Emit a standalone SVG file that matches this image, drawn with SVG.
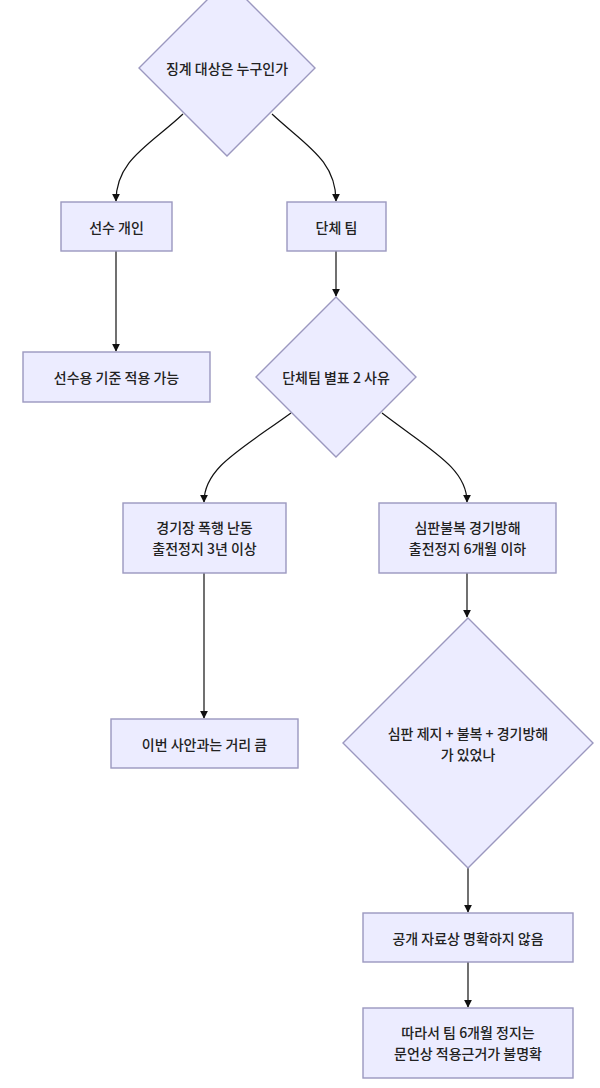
<svg xmlns="http://www.w3.org/2000/svg" width="600" height="1088" viewBox="0 0 600 1088">
<defs>
<marker id="arr" viewBox="0 0 10 10" refX="9" refY="5" markerWidth="8" markerHeight="8" markerUnits="userSpaceOnUse" orient="auto">
<path d="M0,0 L10,5 L0,10 z" fill="#111"/>
</marker>
<style>
.n{fill:#ECECFF;stroke:#9b98bf;stroke-width:1.4}
.t{font-family:"Noto Sans CJK KR","Noto Sans",sans-serif;font-size:14px;font-weight:500;fill:#222;text-anchor:middle;dominant-baseline:central}
.e{fill:none;stroke:#111;stroke-width:1.2;marker-end:url(#arr)}
</style>
</defs>
<rect width="600" height="1088" fill="#fff"/>
<g id="connectors">
<path class="e" d="M183,114 C150,145 116,160 116,201"/>
<path class="e" d="M272,114 C305,145 336,160 336,201"/>
<path class="e" d="M116,251 L116,351"/>
<path class="e" d="M336,251 L336,296"/>
<path class="e" d="M291,413 C240,450 204,468 204,502"/>
<path class="e" d="M382,413 C430,450 467,468 467,502"/>
<path class="e" d="M204,573 L204,718"/>
<path class="e" d="M467,573 L467,617"/>
<path class="e" d="M468,868 L468,912"/>
<path class="e" d="M468,962 L468,1007"/>
</g>
<g id="q1">
<polygon class="n" points="227,-20 315,68 227,156 139,68"/>
<text class="t" x="227" y="68">징계 대상은 누구인가</text>
</g>
<g id="player">
<rect class="n" x="61" y="202" width="111" height="49"/>
<text class="t" x="116.5" y="226.5">선수 개인</text>
</g>
<g id="team">
<rect class="n" x="287" y="202" width="99" height="49"/>
<text class="t" x="336.5" y="226.5">단체 팀</text>
</g>
<g id="playerStd">
<rect class="n" x="23" y="352" width="187" height="50"/>
<text class="t" x="116.5" y="377">선수용 기준 적용 가능</text>
</g>
<g id="q2">
<polygon class="n" points="336,297 416,377 336,457 256,377"/>
<text class="t" x="336" y="377">단체팀 별표 2 사유</text>
</g>
<g id="violence">
<rect class="n" x="123" y="503" width="163" height="70"/>
<text class="t" x="204.5" y="527">경기장 폭행 난동</text>
<text class="t" x="204.5" y="548">출전정지 3년 이상</text>
</g>
<g id="protest">
<rect class="n" x="379" y="503" width="177" height="70"/>
<text class="t" x="467.5" y="527">심판불복 경기방해</text>
<text class="t" x="467.5" y="548">출전정지 6개월 이하</text>
</g>
<g id="far">
<rect class="n" x="111" y="719" width="187" height="49"/>
<text class="t" x="204.5" y="743.5">이번 사안과는 거리 큼</text>
</g>
<g id="q3">
<polygon class="n" points="468,618 593,743 468,868 343,743"/>
<text class="t" x="468" y="733">심판 제지 + 불복 + 경기방해</text>
<text class="t" x="468" y="754">가 있었나</text>
</g>
<g id="unclear">
<rect class="n" x="363" y="913" width="210" height="49"/>
<text class="t" x="468" y="937.5">공개 자료상 명확하지 않음</text>
</g>
<g id="conclusion">
<rect class="n" x="363" y="1008" width="210" height="70"/>
<text class="t" x="468" y="1032">따라서 팀 6개월 정지는</text>
<text class="t" x="468" y="1053">문언상 적용근거가 불명확</text>
</g>
</svg>
